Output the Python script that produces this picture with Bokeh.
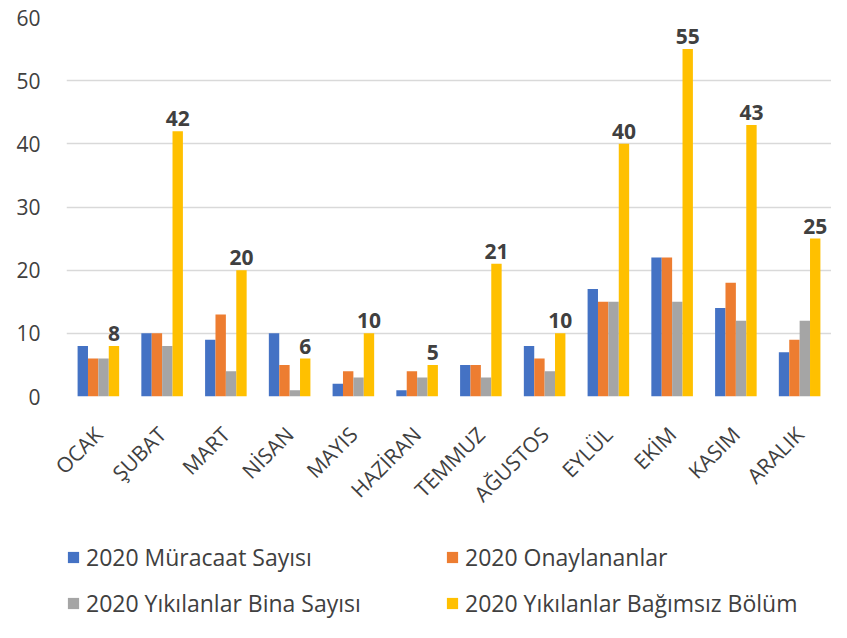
from bokeh.plotting import figure
from bokeh.models import (ColumnDataSource, FactorRange, Range1d, FixedTicker,
                          Legend, LegendItem)
from bokeh.layouts import column
from bokeh.transform import dodge
from bokeh.core.properties import value
from bokeh.embed import file_html
from bokeh.resources import INLINE
import math

months = ["OCAK", "ŞUBAT", "MART", "NİSAN", "MAYIS", "HAZİRAN",
          "TEMMUZ", "AĞUSTOS", "EYLÜL", "EKİM", "KASIM", "ARALIK"]
muracaat = [8, 10, 9, 10, 2, 1, 5, 8, 17, 22, 14, 7]
onaylanan = [6, 10, 13, 5, 4, 4, 5, 6, 15, 22, 18, 9]
bina = [6, 8, 4, 1, 3, 3, 3, 4, 15, 15, 12, 12]
bagimsiz = [8, 42, 20, 6, 10, 5, 21, 10, 40, 55, 43, 25]
y_ticks = [0, 10, 20, 30, 40, 50, 60]

series_names = ["2020 Müracaat Sayısı", "2020 Onaylananlar",
                "2020 Yıkılanlar Bina Sayısı", "2020 Yıkılanlar Bağımsız Bölüm"]
colors = ["#4472C4", "#ED7D31", "#A5A5A5", "#FFC000"]

FONT = "Open Sans"
TXT = "#404040"

src = ColumnDataSource(dict(
    m=months, a=muracaat, b=onaylanan, c=bina, d=bagimsiz,
    lbl=[str(v) for v in bagimsiz],
))

p = figure(width=831, height=520, x_range=FactorRange(*months, range_padding=0),
           y_range=Range1d(0, 60), output_backend="svg", toolbar_location=None,
           min_border_left=66, min_border_right=0, min_border_top=17,
           min_border_bottom=122)
p.outline_line_color = None
p.background_fill_color = "white"
p.border_fill_color = "white"

bw = 0.163
offs = [-1.5 * bw, -0.5 * bw, 0.5 * bw, 1.5 * bw]
cols = ["a", "b", "c", "d"]
rends = []
for col, off, colr in zip(cols, offs, colors):
    r = p.vbar(x=dodge("m", off, range=p.x_range), top=col, width=bw,
               source=src, fill_color=colr, line_color=None)
    rends.append(r)

p.text(x=dodge("m", offs[3], range=p.x_range), y="d", text="lbl", source=src,
       text_align="center", text_baseline="bottom", y_offset=-5,
       text_font=value(FONT), text_font_size="21px", text_font_style="bold",
       text_color=TXT)

# axes
p.yaxis.ticker = FixedTicker(ticks=y_ticks)
p.yaxis.axis_line_color = None
p.yaxis.major_tick_line_color = None
p.yaxis.minor_tick_line_color = None
p.yaxis.major_label_standoff = 20
p.yaxis.major_label_text_font = FONT
p.yaxis.major_label_text_font_size = "21px"
p.yaxis.major_label_text_color = TXT

p.xaxis.axis_line_color = None
p.xaxis.major_tick_line_color = None
p.xaxis.major_label_orientation = math.pi / 4
p.xaxis.major_label_standoff = 28
p.xaxis.major_label_text_font = FONT
p.xaxis.major_label_text_font_size = "21px"
p.xaxis.major_label_text_color = TXT

p.xgrid.grid_line_color = None
p.ygrid.grid_line_color = "#d9d9d9"
p.ygrid.grid_line_width = 1.5

# legend panel (separate figure under the chart, same series colours)
lp = figure(width=831, height=102, x_range=Range1d(0, 1), y_range=Range1d(0, 1),
            x_axis_location=None, y_axis_location=None,
            output_backend="svg", toolbar_location=None,
            min_border=0, min_border_left=0, min_border_right=0,
            min_border_top=0, min_border_bottom=0)
lp.grid.visible = False
lp.outline_line_color = None
lp.border_fill_color = "white"
lp.background_fill_color = "white"

# legend-key renderers: zero-height bars parked outside the visible range
key_src = ColumnDataSource(dict(x=[-5], top=[0]))
lrends = [lp.vbar(x="x", top="top", width=0.1, source=key_src,
                  fill_color=c, line_color=None) for c in colors]

def make_legend(idx, x):
    items = [LegendItem(label=series_names[i], renderers=[lrends[i]]) for i in idx]
    return Legend(items=items, location=(x, 3), orientation="vertical",
                  padding=0, margin=0, spacing=14, label_height=31,
                  glyph_height=14, glyph_width=14, label_standoff=6,
                  border_line_color=None, background_fill_alpha=0,
                  label_text_font=FONT, label_text_font_size="23px",
                  label_text_color=TXT)

lp.add_layout(make_legend([0, 2], 0), "center")
lp.add_layout(make_legend([1, 3], 379), "center")

open("out.html", "w").write(file_html(column(p, lp, spacing=0), INLINE))
